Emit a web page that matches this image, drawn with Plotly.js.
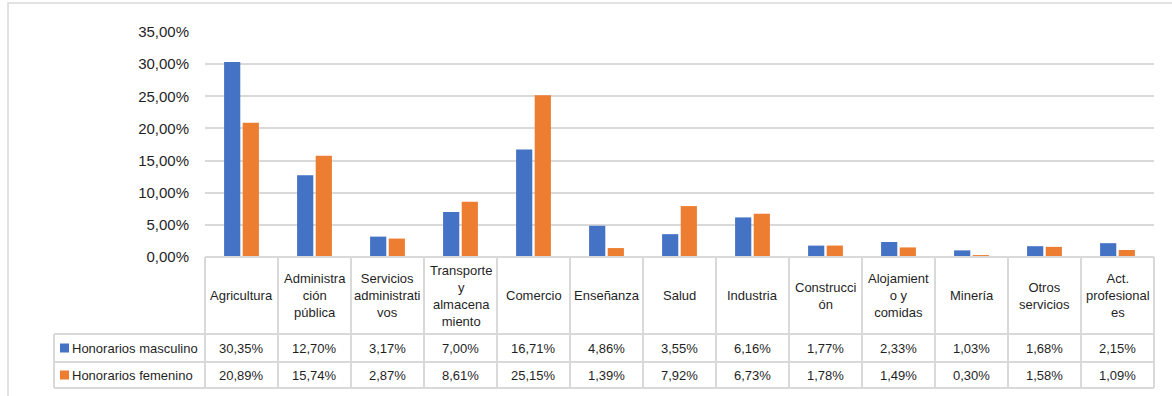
<!DOCTYPE html>
<html>
<head>
<meta charset="utf-8">
<script src="https://cdn.plot.ly/plotly-3.0.1.min.js"></script>
<style>html,body{margin:0;padding:0;background:#fff;}#chart{width:1172px;height:396px;}</style>
</head>
<body>
<div id="chart"></div>
<script>
// ---- data ----
const categories = [
  "Agricultura",
  "Administra<br>ción<br>pública",
  "Servicios<br>administrati<br>vos",
  "Transporte<br>y<br>almacena<br>miento",
  "Comercio",
  "Enseñanza",
  "Salud",
  "Industria",
  "Construcci<br>ón",
  "Alojamient<br>o y<br>comidas",
  "Minería",
  "Otros<br>servicios",
  "Act.<br>profesional<br>es"
];
const seriesNames = ["Honorarios masculino", "Honorarios femenino"];
const masculino = [30.35, 12.70, 3.17, 7.00, 16.71, 4.86, 3.55, 6.16, 1.77, 2.33, 1.03, 1.68, 2.15];
const femenino  = [20.89, 15.74, 2.87, 8.61, 25.15, 1.39, 7.92, 6.73, 1.78, 1.49, 0.30, 1.58, 1.09];
const yTicks = [0, 5, 10, 15, 20, 25, 30, 35];
const colors = ["#4472C4", "#ED7D31"];

// ---- geometry helpers (pixel -> paper) ----
const W = 1172, H = 396;
const M = {l: 205, r: 18, t: 32, b: 139};
const PW = W - M.l - M.r, PH = H - M.t - M.b;
const px = x => (x - M.l) / PW;
const py = y => (H - M.b - y) / PH;

const textFont = {family: "'Liberation Sans', Arial, sans-serif", size: 13, color: "#1f1f1f"};
const tickFont = {family: "'Liberation Sans', Arial, sans-serif", size: 15, color: "#1f1f1f"};
const grid = "#d9d9d9";

const fmt = v => v.toFixed(2).replace(".", ",") + "%";

const traces = [masculino, femenino].map((vals, i) => ({
  type: "bar",
  name: seriesNames[i],
  x: categories.map((c, k) => k),
  y: vals,
  marker: {color: colors[i]},
  hoverinfo: "skip"
}));

// table rows
const rowTop = 257, rowH = 334, row1 = 362, row2 = 388;
const legX = 54, tabR = W - M.r;
const shapes = [];
// outer chart border
shapes.push({type: "rect", xref: "paper", yref: "paper", x0: px(8), y0: py(3), x1: px(1180), y1: py(400),
  line: {color: "#d9d9d9", width: 1.5}, fillcolor: "rgba(0,0,0,0)", layer: "below"});
const line = (x0, y0, x1, y1) => shapes.push({type: "line", xref: "paper", yref: "paper",
  x0: px(x0), y0: py(y0), x1: px(x1), y1: py(y1), line: {color: grid, width: 2}});
// horizontal
line(M.l, rowTop, tabR, rowTop);
line(legX, rowH, tabR, rowH);
line(legX, row1, tabR, row1);
line(legX, row2, tabR, row2);
// verticals
line(legX, rowH, legX, row2);
for (let k = 0; k <= categories.length; k++) {
  const xPix = M.l + k * PW / categories.length;
  line(xPix, rowTop, xPix, row2);
}
// legend keys
[rowH, row1].forEach((yTop, i) => {
  const cy = (yTop + (i === 0 ? row1 : row2)) / 2;
  shapes.push({type: "rect", xref: "paper", yref: "paper",
    x0: px(60), x1: px(69), y0: py(cy - 4.5), y1: py(cy + 4.5),
    fillcolor: colors[i], line: {width: 0}});
});

const annotations = [];
// header labels
categories.forEach((c, k) => {
  annotations.push({xref: "x", yref: "paper", x: k, y: py((rowTop + rowH) / 2), text: c,
    showarrow: false, align: "center", xanchor: "center", yanchor: "middle", font: textFont});
});
// values
[masculino, femenino].forEach((vals, i) => {
  const cy = i === 0 ? (rowH + row1) / 2 : (row1 + row2) / 2;
  vals.forEach((v, k) => {
    annotations.push({xref: "x", yref: "paper", x: k, y: py(cy), text: fmt(v),
      showarrow: false, xanchor: "center", yanchor: "middle", font: textFont});
  });
  annotations.push({xref: "paper", yref: "paper", x: px(70), y: py(cy), text: seriesNames[i],
    showarrow: false, xanchor: "left", yanchor: "middle", font: textFont});
});

const layout = {
  width: W, height: H,
  margin: M,
  paper_bgcolor: "#fff", plot_bgcolor: "#fff",
  showlegend: false,
  barmode: "group",
  bargap: 0.49,
  bargroupgap: 0.13,
  xaxis: {type: "linear", range: [-0.5, categories.length - 0.5], showticklabels: false,
    showgrid: false, zeroline: false, showline: false, ticks: ""},
  yaxis: {range: [0, 35], tickvals: yTicks, ticktext: yTicks.map(fmt),
    showgrid: true, gridcolor: grid, gridwidth: 2, zeroline: false, showline: false,
    ticks: "", ticklabelstandoff: 15, tickfont: tickFont, automargin: false},
  shapes: shapes,
  annotations: annotations,
  font: textFont
};

Plotly.newPlot("chart", traces, layout, {displayModeBar: false, staticPlot: true});
</script>
</body>
</html>
